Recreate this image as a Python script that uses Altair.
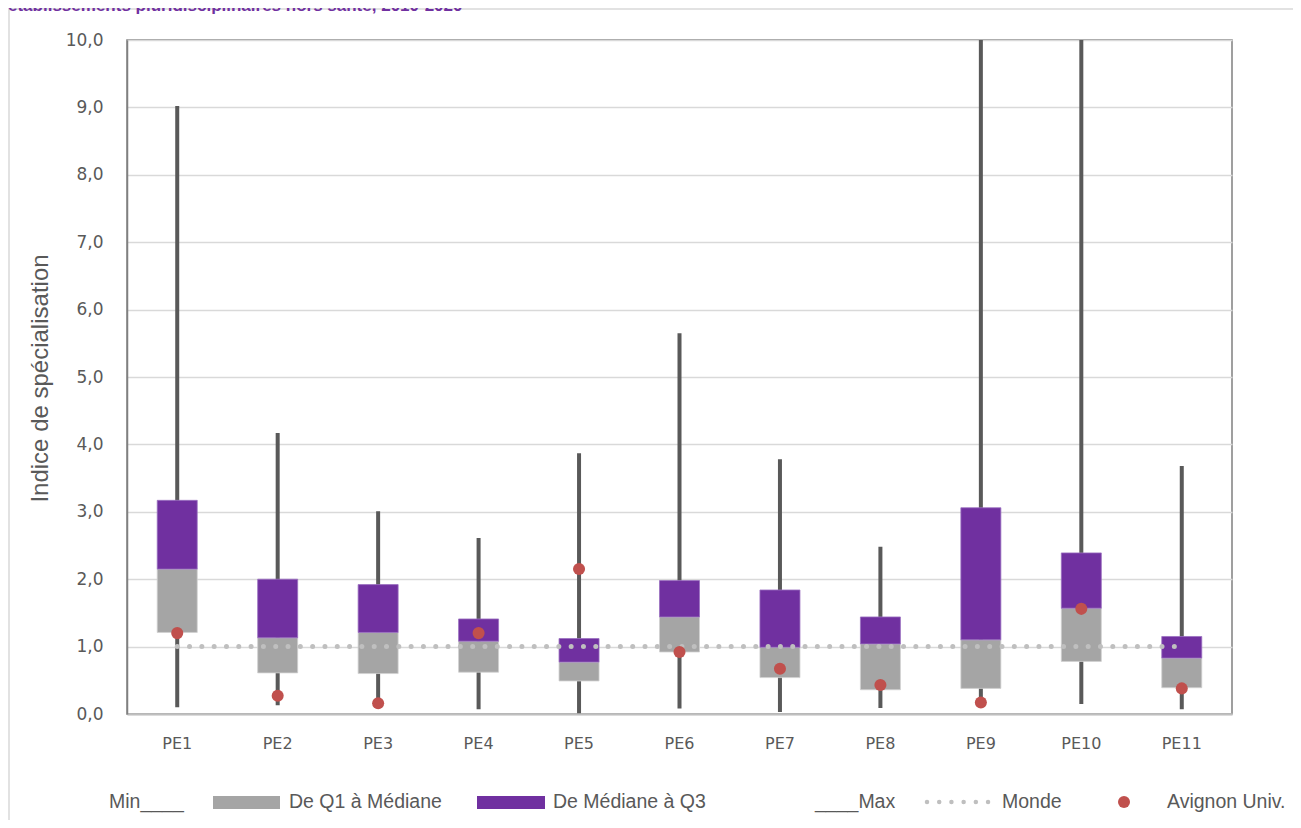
import altair as alt
import pandas as pd

categories = ["PE1", "PE2", "PE3", "PE4", "PE5", "PE6", "PE7", "PE8", "PE9", "PE10", "PE11"]
mins = [0.10, 0.13, 0.15, 0.07, 0.01, 0.08, 0.03, 0.09, 0.15, 0.15, 0.07]
q1s = [1.21, 0.61, 0.60, 0.62, 0.49, 0.92, 0.54, 0.36, 0.38, 0.78, 0.39]
medians = [2.15, 1.13, 1.21, 1.08, 0.77, 1.44, 0.99, 1.04, 1.10, 1.57, 0.83]
q3s = [3.17, 2.00, 1.92, 1.41, 1.12, 1.98, 1.84, 1.44, 3.06, 2.39, 1.15]
maxs = [9.02, 4.17, 3.01, 2.61, 3.87, 5.65, 3.78, 2.48, 12.0, 12.0, 3.68]
avignon = [1.20, 0.27, 0.16, 1.20, 2.15, 0.92, 0.67, 0.43, 0.17, 1.56, 0.38]
monde = [1.0] * len(categories)

legend_labels = ["Min____", "De Q1 à Médiane", "De Médiane à Q3", "____Max", "Monde", "Avignon Univ."]
title_text = "établissements pluridisciplinaires hors santé, 2010-2020"
y_title = "Indice de spécialisation"

GRAY = "#A5A5A5"
PURPLE = "#7030A0"
RED = "#C0504D"
WHISK = "#595959"
MONDE = "#BFBFBF"
TXT = "#595959"
FONT = "Liberation Sans"
AXFONT = "DejaVu Sans"

df = pd.DataFrame({
    "cat": categories, "mn": mins, "q1": q1s, "med": medians,
    "q3": q3s, "mx": maxs, "av": avignon, "monde": monde,
})

W, H = 1105, 674

xenc = alt.X("cat:N", sort=categories, title=None,
             scale=alt.Scale(paddingInner=0, paddingOuter=0),
             axis=alt.Axis(labelFontSize=16, labelColor=TXT, labelFont=AXFONT,
                           labelPadding=21, ticks=False, domainColor="#BFBFBF",
                           domainWidth=2, labelAngle=0))
yscale = alt.Scale(domain=[0, 10], nice=False)
yaxis = alt.Axis(values=list(range(0, 11)),
                 labelExpr="replace(format(datum.value, '.1f'), '.', ',')",
                 labelFontSize=17, labelColor=TXT, labelFont=AXFONT, labelPadding=24,
                 ticks=False, domainColor="#808080", domainWidth=1.5,
                 gridColor="#D9D9D9", gridWidth=1.5,
                 title=y_title, titleFontSize=24, titleFontWeight="normal",
                 titleColor=TXT, titleFont=FONT, titleAngle=-90,
                 titleX=-87, titleY=338, titleAlign="center", titleBaseline="middle")

base = alt.Chart(df)

whisk = base.mark_rule(color=WHISK, strokeWidth=4, clip=True).encode(
    x=xenc, y=alt.Y("mn:Q", scale=yscale, axis=yaxis), y2="mx:Q")
lower = base.mark_bar(size=40, color=GRAY, stroke="#D0D0D0", strokeWidth=0.8).encode(
    x=alt.X("cat:N", sort=categories), y="q1:Q", y2="med:Q")
upper = base.mark_bar(size=40, color=PURPLE, stroke="#9A70C0", strokeWidth=0.8).encode(
    x=alt.X("cat:N", sort=categories), y="med:Q", y2="q3:Q")
mline = base.mark_line(color=MONDE, strokeWidth=5, strokeCap="round",
                       strokeDash=[0.01, 12.3]).encode(
    x=alt.X("cat:N", sort=categories), y="monde:Q")
dots = base.mark_circle(color=RED, opacity=1, size=145).encode(
    x=alt.X("cat:N", sort=categories), y="av:Q")


def txt(label, x, y, **kw):
    opts = dict(align="left", baseline="middle", fontSize=19.5, color=TXT, font=FONT)
    opts.update(kw)
    return alt.Chart(pd.DataFrame({"t": [label]})).mark_text(**opts).encode(
        x=alt.value(x), y=alt.value(y), text="t:N")


def box(x, x2, y, y2, color):
    return alt.Chart(pd.DataFrame({"k": [0]})).mark_rect(color=color).encode(
        x=alt.value(x), x2=alt.value(x2), y=alt.value(y), y2=alt.value(y2))


LY = 762
leg = [
    txt(legend_labels[0], -18, LY),
    box(86, 153, 756, 769, GRAY),
    txt(legend_labels[1], 162, LY),
    box(350, 418, 756, 769, PURPLE),
    txt(legend_labels[2], 426, LY),
    txt(legend_labels[3], 688, LY),
    alt.Chart(pd.DataFrame({"k": [0]})).mark_rule(
        color=MONDE, strokeWidth=4.5, strokeCap="round", strokeDash=[0.01, 12.2]).encode(
        x=alt.value(800), x2=alt.value(862), y=alt.value(LY)),
    txt(legend_labels[4], 875, LY),
    alt.Chart(pd.DataFrame({"k": [0]})).mark_circle(color=RED, opacity=1, size=145).encode(
        x=alt.value(997), y=alt.value(LY)),
    txt(legend_labels[5], 1040, LY),
]

frame = alt.Chart(pd.DataFrame({"k": [0]})).mark_rect(
    fill=None, stroke="#D9D9D9", strokeWidth=1.5).encode(
    x=alt.value(-118), x2=alt.value(1200), y=alt.value(-31), y2=alt.value(800))

title = txt(title_text, -119, -29, baseline="alphabetic", fontSize=17,
            fontWeight="bold", color=PURPLE)

chart = alt.layer(frame, title, whisk, lower, upper, mline, dots, *leg).properties(
    width=W, height=H,
    autosize=alt.AutoSizeParams(type="none"),
    padding={"left": 119, "top": 32, "right": 61, "bottom": 106},
).configure_view(stroke="#808080", strokeWidth=1.5)

chart.save("out.html", embed_options={"renderer": "svg", "actions": False})
